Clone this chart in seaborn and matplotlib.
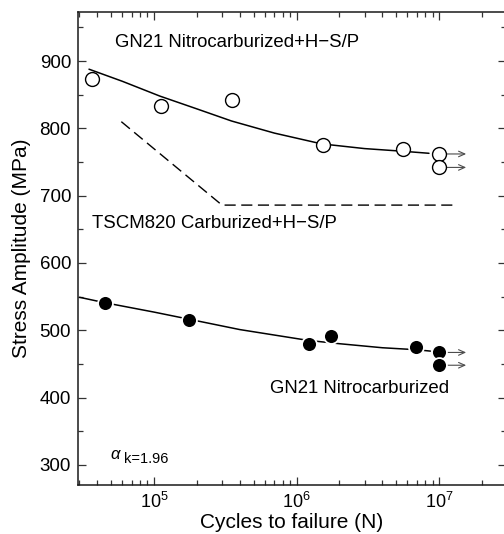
import matplotlib
matplotlib.use('Agg')
import matplotlib.pyplot as plt
import seaborn as sns
import numpy as np
import pandas as pd
from matplotlib.ticker import LogLocator, MultipleLocator, FixedLocator, NullFormatter

# open circles: GN21 Nitrocarburized + H-S/P
hsp_cycles = [3.7e4, 1.12e5, 3.5e5, 1.54e6, 5.6e6, 1.0e7, 1.0e7]
hsp_stress = [873, 834, 842, 775, 769, 762, 742]
hsp_runout = [False, False, False, False, False, True, True]

# filled circles: GN21 Nitrocarburized
nit_cycles = [4.5e4, 1.77e5, 1.23e6, 1.75e6, 6.9e6, 1.0e7, 1.0e7]
nit_stress = [540, 515, 480, 492, 475, 467, 448]
nit_runout = [False, False, False, False, False, True, True]

# fitted S-N curves
hsp_fit_x = [3.5e4, 6e4, 1.1e5, 2e5, 3.5e5, 7e5, 1.5e6, 3e6, 5.6e6, 8.5e6]
hsp_fit_y = [888, 870, 848, 829, 811, 793, 777, 770, 766, 763]
nit_fit_x = [3.0e4, 4.5e4, 1e5, 1.8e5, 4e5, 1.2e6, 2e6, 4e6, 7e6, 8.7e6]
nit_fit_y = [549, 541, 527, 516, 501, 485, 480, 474, 471, 469]

# TSCM820 carburized + H-S/P (dashed)
tscm_x = [5.9e4, 3.0e5, 1.3e7]
tscm_y = [810, 686, 686]

runout_end = 1.55e7

sns.set_style('ticks')
plt.rcParams['font.family'] = ['Liberation Sans', 'DejaVu Sans']
plt.rcParams['mathtext.fontset'] = 'custom'
plt.rcParams['mathtext.rm'] = 'Liberation Sans'
plt.rcParams['mathtext.it'] = 'Liberation Sans:italic'
plt.rcParams['text.color'] = 'black'
plt.rcParams['axes.labelcolor'] = 'black'

fig = plt.figure(figsize=(5.04, 5.34), dpi=100)
ax = fig.add_axes([78 / 504, 49 / 534, 428 / 504, 473 / 534])

sns.lineplot(x=hsp_fit_x, y=hsp_fit_y, ax=ax, color='black', lw=1.1, sort=False, zorder=2)
sns.lineplot(x=nit_fit_x, y=nit_fit_y, ax=ax, color='black', lw=1.1, sort=False, zorder=2)
sns.lineplot(x=tscm_x, y=tscm_y, ax=ax, color='black', lw=1.0, sort=False, zorder=2,
             dashes=False, linestyle=(0, (8, 4)))

# run-out arrows
for xs, ys, ro in [(hsp_cycles, hsp_stress, hsp_runout), (nit_cycles, nit_stress, nit_runout)]:
    for x, y, r in zip(xs, ys, ro):
        if r:
            ax.annotate('', xy=(runout_end, y), xytext=(x, y),
                        arrowprops=dict(arrowstyle='->,head_length=0.45,head_width=0.2',
                                        lw=0.8, color='0.3', shrinkA=4.5, shrinkB=0),
                        zorder=1)

sns.scatterplot(x=hsp_cycles, y=hsp_stress, ax=ax, s=100, facecolor='white',
                edgecolor='black', linewidth=1.0, zorder=3)
sns.scatterplot(x=nit_cycles, y=nit_stress, ax=ax, s=115, color='black',
                edgecolor='white', linewidth=1.3, zorder=3)

ax.set_xscale('log')
ax.set_xlim(2.93e4, 2.95e7)
ax.set_ylim(270, 973)

ax.xaxis.set_major_locator(FixedLocator([1e5, 1e6, 1e7]))
ax.set_xticklabels([r'$10^{5}$', r'$10^{6}$', r'$10^{7}$'])
ax.xaxis.set_minor_locator(LogLocator(base=10, subs=np.arange(2, 10)))
ax.xaxis.set_minor_formatter(NullFormatter())
ax.yaxis.set_major_locator(MultipleLocator(100))
ax.yaxis.set_minor_locator(MultipleLocator(50))

ax.tick_params(which='both', direction='in', top=True, right=True, width=0.9,
               color='0.2', labelcolor='black')
ax.tick_params(which='major', length=6)
ax.tick_params(which='minor', length=3.5)
ax.tick_params(axis='y', labelsize=13.5, pad=5)
ax.tick_params(axis='x', labelsize=13, pad=5)
for sp in ax.spines.values():
    sp.set_linewidth(1.1)
    sp.set_color('0.1')

ax.set_xlabel('Cycles to failure (N)', fontsize=15, labelpad=1)
ax.set_ylabel('Stress Amplitude (MPa)', fontsize=15, labelpad=6)

ax.text(5.3e4, 927, 'GN21 Nitrocarburized+H\u2212S/P', fontsize=13.4, va='center', ha='left')
ax.text(3.67e4, 659, 'TSCM820 Carburized+H\u2212S/P', fontsize=13.4, va='center', ha='left')
ax.text(6.5e5, 414, 'GN21 Nitrocarburized', fontsize=13.4, va='center', ha='left')
ax.text(4.9e4, 316, r'$\alpha$', fontsize=12, va='center', ha='left')
ax.text(6.2e4, 309, 'k=1.96', fontsize=10.5, va='center', ha='left')

fig.savefig('out.png', dpi=100)
